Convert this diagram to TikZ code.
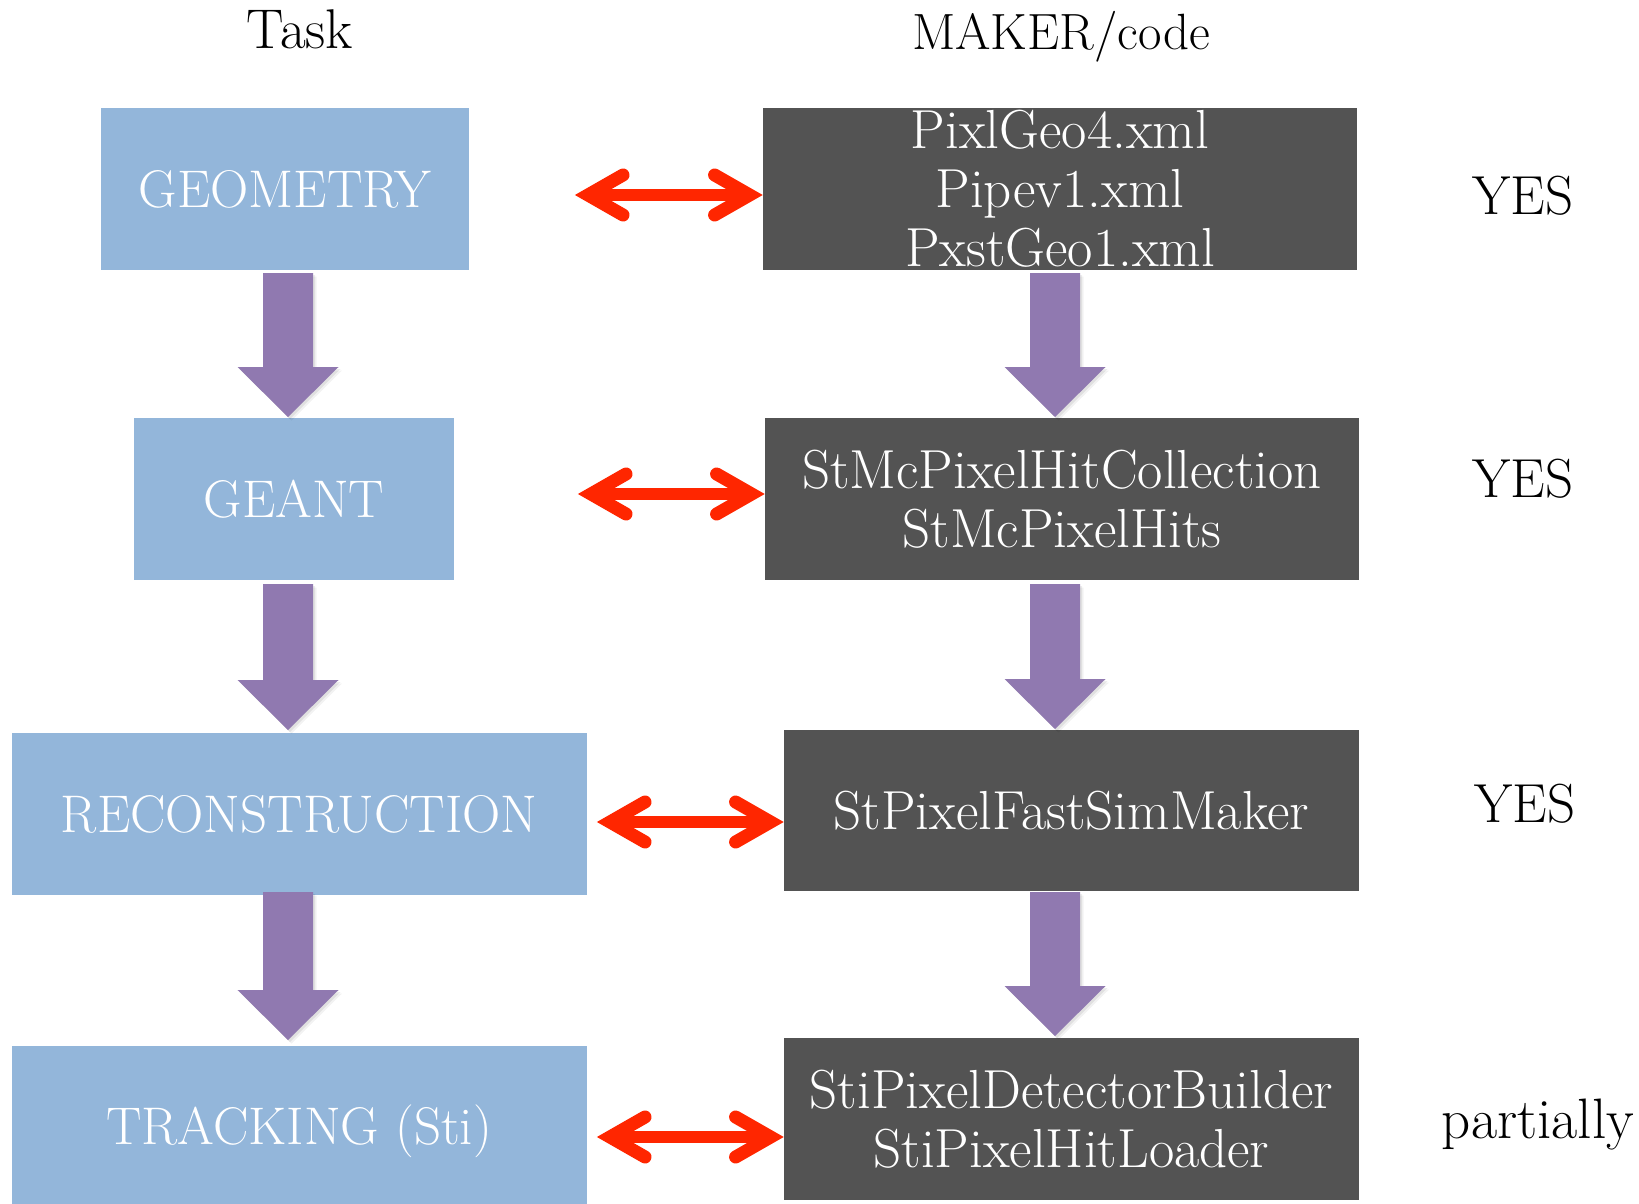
\documentclass[tikz,border=0pt]{standalone}
\usepackage{fontspec}
\usetikzlibrary{calc}

\definecolor{taskblue}{HTML}{93B6DA}
\definecolor{codegray}{HTML}{535353}
\definecolor{flowpurple}{HTML}{9079B0}
\definecolor{linkred}{HTML}{FF2600}

\tikzset{
  taskbox/.style={fill=taskblue, inner sep=0pt, text=white, align=center,
    font=\fontsize{26.5}{30}\selectfont},
  codebox/.style={fill=codegray, inner sep=0pt, text=white, align=center,
    font=\fontsize{27.5}{29.5}\selectfont},
  header/.style={inner sep=0pt},
  verdict/.style={inner sep=0pt},
  flowarrow/.style={fill=flowpurple},
  linkshaft/.style={draw=linkred, line width=6pt, line cap=butt},
  linkhead/.style={draw=linkred, line width=6.5pt, line cap=round, line join=miter},
}

% outline of a downward block arrow: #1 top of shaft, #2 tip, #3/#4 offset
\newcommand{\arrowpath}[4]{%
  ($(#1)+(-25+#3,#4)$) -- ($(#1)+(25+#3,#4)$) -- ($(#2)+(25+#3,-50+#4)$)
  -- ($(#2)+(50.5+#3,-50+#4)$) -- ($(#2)+(#3,#4)$)
  -- ($(#2)+(-50.5+#3,-50+#4)$) -- ($(#2)+(-25+#3,-50+#4)$) -- cycle}

% block arrow with a soft shadow
\newcommand{\flowdown}[2]{%
  \fill[black, opacity=0.05] \arrowpath{#1}{#2}{3.5}{3.5};
  \fill[black, opacity=0.07] \arrowpath{#1}{#2}{2}{2};
  \fill[flowarrow] \arrowpath{#1}{#2}{0}{0};}

% double-headed red link between two tips
\newcommand{\redlink}[2]{%
  \draw[linkshaft] ($(#1)+(13,0)$) -- ($(#2)+(-13,0)$);
  \draw[linkhead] ($(#1)+(48,-20)$) -- ($(#1)+(13,0)$) -- ($(#1)+(48,20)$);
  \draw[linkhead] ($(#2)+(-48,-20)$) -- ($(#2)+(-13,0)$) -- ($(#2)+(-48,20)$);}

\begin{document}
\begin{tikzpicture}[x=0.5pt, y=-0.5pt]
  \fill[white] (0,0) rectangle (1639,1204);
  \useasboundingbox (0,0) rectangle (1639,1204);

  % column headers
  \node[header, anchor=base, font=\fontsize{28}{30}\selectfont] (hTask) at (300,49) {Task};
  \node[header, anchor=base, font=\fontsize{25.5}{30}\selectfont] (hCode) at (1061,50) {MAKER/code};

  % task column
  \node[taskbox, minimum width=184pt, minimum height=81pt] (geo) at (285,189) {GEOMETRY};
  \node[taskbox, minimum width=160pt, minimum height=81pt] (geant) at (294,499) {GEANT};
  \node[taskbox, minimum width=287.75pt, minimum height=81pt] (reco) at (299.25,814) {RECONSTRUCTION};
  \node[taskbox, minimum width=287.75pt, minimum height=79pt, text depth=0pt] (track) at (299.25,1125) {TRACKING (Sti)};

  % code column
  \node[codebox, minimum width=297pt, minimum height=81pt] (code1) at (1060,189)
    {PixlGeo4.xml\\Pipev1.xml\\PxstGeo1.xml};
  \node[codebox, minimum width=297pt, minimum height=81pt] (code2) at (1062,499)
    {StMcPixelHitCollection\\StMcPixelHits};
  \node[codebox, minimum width=287.5pt, minimum height=80.5pt] (code3) at (1071.5,810.5)
    {StPixelFastSimMaker};
  \node[codebox, minimum width=287.5pt, minimum height=81pt] (code4) at (1071.5,1119)
    {StiPixelDetectorBuilder\\StiPixelHitLoader};

  % status column
  \node[verdict, anchor=base, font=\fontsize{27.5}{30}\selectfont] (s1) at (1523,214) {YES};
  \node[verdict, anchor=base, font=\fontsize{27.5}{30}\selectfont] (s2) at (1523,497) {YES};
  \node[verdict, anchor=base, font=\fontsize{27.5}{30}\selectfont] (s3) at (1525,822) {YES};
  \node[verdict, anchor=base, font=\fontsize{28.5}{30}\selectfont] (s4) at (1538,1138) {partially};

  % flow arrows
  \coordinate (ta1) at (288,273);  \coordinate (te1) at (288,417);
  \coordinate (ta2) at (288,584);  \coordinate (te2) at (288,730);
  \coordinate (ta3) at (288,892);  \coordinate (te3) at (288,1040);
  \coordinate (ca1) at (1055,273); \coordinate (ce1) at (1055,417);
  \coordinate (ca2) at (1055,584); \coordinate (ce2) at (1055,729);
  \coordinate (ca3) at (1055,892); \coordinate (ce3) at (1055,1036);
  \flowdown{ta1}{te1}
  \flowdown{ta2}{te2}
  \flowdown{ta3}{te3}
  \flowdown{ca1}{ce1}
  \flowdown{ca2}{ce2}
  \flowdown{ca3}{ce3}

  % links between task and code
  \coordinate (l1) at (575,195);  \coordinate (r1) at (code1.west |- 0,195);
  \coordinate (l2) at (578,494);  \coordinate (r2) at (code2.west |- 0,494);
  \coordinate (l3) at (597,822);  \coordinate (r3) at (code3.west |- 0,822);
  \coordinate (l4) at (597,1137); \coordinate (r4) at (code4.west |- 0,1137);
  \redlink{l1}{r1}
  \redlink{l2}{r2}
  \redlink{l3}{r3}
  \redlink{l4}{r4}
\end{tikzpicture}
\end{document}
